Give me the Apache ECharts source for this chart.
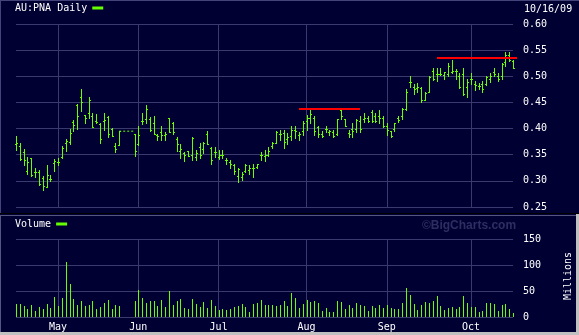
<!DOCTYPE html>
<html><head><meta charset="utf-8">
<script src="https://cdn.jsdelivr.net/npm/echarts@6/dist/echarts.min.js"></script>
<style>html,body{margin:0;padding:0;background:#000033;overflow:hidden}#c{width:579px;height:335px}</style>
</head><body><div id="c"></div><script>
// ---- data ----
const dates = [
'04-16','04-17','04-20','04-21','04-22','04-23','04-24','04-27','04-28','04-29','04-30',
'05-01','05-04','05-05','05-06','05-07','05-08','05-11','05-12','05-13','05-14','05-15','05-18','05-19','05-20','05-21','05-22','05-25','05-26','05-27','05-28','05-29',
'06-01','06-02','06-03','06-04','06-05','06-09','06-10','06-11','06-12','06-15','06-16','06-17','06-18','06-19','06-22','06-23','06-24','06-25','06-26','06-29','06-30',
'07-01','07-02','07-03','07-06','07-07','07-08','07-09','07-10','07-13','07-14','07-15','07-16','07-17','07-20','07-21','07-22','07-23','07-24','07-27','07-28','07-29','07-30','07-31',
'08-03','08-04','08-05','08-06','08-07','08-10','08-11','08-12','08-13','08-14','08-17','08-18','08-19','08-20','08-21','08-24','08-25','08-26','08-27','08-28','08-31',
'09-01','09-02','09-03','09-04','09-07','09-08','09-09','09-10','09-11','09-14','09-15','09-16','09-17','09-18','09-21','09-22','09-23','09-24','09-25','09-28','09-29','09-30',
'10-01','10-02','10-05','10-06','10-07','10-08','10-09','10-12','10-13','10-14','10-15','10-16'];
const open = [
.371,.366,.356,.319,.343,.316,.316,.305,.288,.303,.335,
.337,.345,.373,.374,.413,.445,.460,.426,.430,.425,.415,.408,.414,.422,.400,.367,.369,null,null,null,.390,
.370,.414,.418,.419,.410,.388,.394,.388,.420,.410,.380,.357,.354,.358,.349,.345,.365,.360,.389,.362,.356,
.345,.350,.340,.337,.330,.310,.308,.319,.320,.325,.326,.350,.348,.350,.366,.372,.390,.392,.380,.385,.398,.388,.395,
.415,.420,.420,.403,.390,.400,.394,.393,.390,.435,.418,.392,.400,.400,.415,.418,.420,.432,.425,.425,.420,
.405,.395,.400,.420,.425,.437,.490,.480,.478,.477,.455,.470,.510,.505,.505,.503,.505,.508,.511,.500,.505,.480,
.494,.485,.482,.486,.485,.495,.509,.500,.500,.527,.540,.530];
const high = [
.386,.372,.360,.346,.344,.325,.320,.310,.331,.312,.341,
.344,.366,.381,.400,.417,.447,.475,.426,.460,.429,.427,.411,.430,.425,.402,.373,.395,null,null,null,.390,
.404,.429,.445,.423,.424,.389,.405,.394,.420,.413,.384,.370,.355,.358,.384,.359,.372,.375,.395,.365,.365,
.359,.359,.343,.340,.333,.324,.317,.333,.330,.333,.333,.356,.359,.365,.374,.395,.398,.398,.391,.405,.405,.394,.415,
.426,.435,.424,.405,.395,.405,.398,.398,.419,.435,.419,.398,.410,.419,.424,.429,.424,.435,.429,.435,.424,
.410,.395,.410,.424,.440,.475,.500,.485,.487,.480,.470,.500,.515,.515,.515,.509,.525,.531,.513,.506,.515,.494,
.506,.491,.488,.491,.500,.506,.515,.506,.525,.547,.547,.531];
const low = [
.359,.340,.330,.314,.309,.308,.292,.283,.288,.299,.319,
.330,.343,.358,.370,.396,.400,.433,.410,.420,.403,.410,.372,.397,.384,.385,.355,.369,null,null,null,.347,
.369,.409,.410,.395,.389,.379,.379,.379,.394,.389,.358,.344,.338,.347,.339,.339,.343,.353,.370,.333,.346,
.342,.343,.333,.324,.314,.298,.302,.317,.314,.308,.324,.340,.338,.348,.363,.372,.379,.363,.370,.379,.382,.378,.388,
.397,.410,.388,.383,.383,.394,.388,.383,.388,.419,.404,.383,.383,.394,.394,.413,.413,.413,.413,.410,.403,
.387,.383,.395,.413,.419,.435,.480,.467,.469,.451,.455,.469,.493,.491,.503,.494,.500,.506,.494,.478,.464,.460,
.485,.474,.475,.469,.483,.490,.500,.491,.494,.520,.530,.515];
const close = [
.372,.341,.340,.336,.311,.316,.294,.290,.312,.303,.338,
.337,.363,.376,.392,.406,.425,.451,.420,.454,.403,.413,.380,.416,.390,.386,.361,.395,null,null,null,.358,
.388,.415,.438,.398,.390,.385,.388,.389,.394,.394,.371,.360,.349,.348,.382,.354,.350,.372,.370,.340,.355,
.350,.350,.340,.332,.319,.322,.313,.330,.324,.324,.332,.349,.349,.357,.372,.394,.389,.375,.383,.398,.395,.389,.410,
.421,.428,.395,.390,.385,.400,.395,.385,.418,.424,.404,.390,.395,.417,.400,.420,.414,.415,.415,.420,.405,
.398,.385,.410,.416,.437,.470,.490,.475,.480,.454,.468,.499,.495,.505,.505,.508,.519,.511,.510,.480,.467,.490,
.495,.484,.481,.475,.499,.500,.505,.494,.524,.540,.532,.515];
const volume = [
25,25,21,15,23,11,19,15,25,17,38,
21,36,105,64,34,23,31,21,23,31,15,19,27,32,15,23,21,null,null,null,31,
52,36,27,31,31,21,32,19,50,23,31,34,17,15,34,25,19,29,17,32,21,
13,15,13,15,19,21,25,19,9,25,27,32,23,23,23,21,23,31,21,46,36,17,25,
32,29,31,27,11,17,9,9,31,29,15,23,17,27,23,21,11,21,17,23,17,
23,17,15,15,27,56,42,25,13,23,29,27,31,40,21,13,17,19,15,19,40,27,
19,19,9,11,27,27,25,11,23,25,15,7];
// trading-halt days drawn as a dashed flat line
const haltDates = ['05-25','05-26','05-27','05-28','05-29'];
const haltLevel = 0.395;
// red resistance lines (category positions, price)
const resFrom = [74, 110.1];
const resTo = [89.7, 131.2];
const resLevel = [0.437, 0.535];
// month ticks
const monthStarts = ['05-01','06-01','07-01','08-03','09-01','10-01'];
const monthLabels = ['May','Jun','Jul','Aug','Sep','Oct'];
const priceTicks = {min:0.25, max:0.60, step:0.05};
const volTicks = {min:0, max:150, step:50};

// ---- chart ----
const GREEN = '#66ff00';
const GRID = '#3a3a6e';
const FONT = 'DejaVu Sans Mono';
const isMonthStart = (i) => monthStarts.indexOf(dates[i]) >= 0;

const ohlcData = [];
dates.forEach((d, i) => { if (open[i] != null) ohlcData.push([i, open[i], high[i], low[i], close[i]]); });
const volData = [];
dates.forEach((d, i) => { if (volume[i] != null) volData.push([i, volume[i]]); });
const haltData = dates.map(d => haltDates.indexOf(d) >= 0 ? haltLevel : null);
const resData = resLevel.map((v, k) => [resFrom[k], resTo[k], v]);

function ohlcItem(params, api) {
  const x = api.value(0);
  const pO = api.coord([x, api.value(1)]);
  const pH = api.coord([x, api.value(2)]);
  const pL = api.coord([x, api.value(3)]);
  const pC = api.coord([x, api.value(4)]);
  const px = Math.round(pH[0]);
  const yH = Math.round(pH[1]), yL = Math.round(pL[1]);
  return {type: 'group', children: [
    {type: 'rect', shape: {x: px, y: yH, width: 1, height: Math.max(1, yL - yH + 1)}, style: {fill: GREEN}},
    {type: 'rect', shape: {x: px - 1, y: Math.round(pO[1]), width: 1, height: 1}, style: {fill: GREEN}},
    {type: 'rect', shape: {x: px + 1, y: Math.round(pC[1]), width: 1, height: 1}, style: {fill: GREEN}}
  ]};
}
function volItem(params, api) {
  const x = api.value(0);
  const pT = api.coord([x, api.value(1)]);
  const pB = api.coord([x, 0]);
  const px = Math.round(pT[0]);
  const yT = Math.round(pT[1]), yB = Math.round(pB[1]);
  return {type: 'rect', shape: {x: px, y: yT, width: 1, height: yB - yT}, style: {fill: GREEN}};
}
function resItem(params, api) {
  const p0 = api.coord([api.value(0), api.value(2)]);
  const p1 = api.coord([api.value(1), api.value(2)]);
  const y = Math.round(p0[1]) - 1;
  return {type: 'rect', shape: {x: Math.round(p0[0]), y: y, width: Math.round(p1[0] - p0[0]), height: 2}, style: {fill: '#ff0000'}};
}

const chart = echarts.init(document.getElementById('c'), null, {renderer: 'canvas'});
const labelStyle = {color: '#ffffff', fontFamily: FONT, fontSize: 10};
chart.setOption({
  animation: false,
  backgroundColor: '#000033',
  textStyle: {fontFamily: FONT},
  legend: [
    {data: ['AU:PNA Daily'], left: 15, top: 3, padding: 0, align: 'right', icon: 'rect', itemWidth: 11, itemHeight: 3,
     selectedMode: false, textStyle: {color: '#ffffff', fontFamily: FONT, fontSize: 10, padding: 0}},
    {data: ['Volume'], left: 15, top: 219, padding: 0, align: 'right', icon: 'rect', itemWidth: 11, itemHeight: 3,
     selectedMode: false, textStyle: {color: '#ffffff', fontFamily: FONT, fontSize: 10, padding: 0}}
  ],
  grid: [
    {left: 16, width: 497, top: 24, height: 183},
    {left: 16, width: 497, top: 239, height: 78}
  ],
  xAxis: [
    {type: 'category', gridIndex: 0, data: dates, boundaryGap: false,
     axisLine: {show: false}, axisTick: {show: false}, axisLabel: {show: false},
     splitLine: {show: true, interval: (i) => isMonthStart(i), lineStyle: {color: GRID, width: 1}}},
    {type: 'category', gridIndex: 1, data: dates, boundaryGap: false,
     axisLine: {show: false}, axisTick: {show: false},
     axisLabel: Object.assign({interval: (i) => isMonthStart(i), margin: 5,
       formatter: (v) => monthLabels[monthStarts.indexOf(v)] || ''}, labelStyle),
     splitLine: {show: true, interval: (i) => isMonthStart(i), lineStyle: {color: GRID, width: 1}}}
  ],
  yAxis: [
    {type: 'value', gridIndex: 0, position: 'right', min: priceTicks.min, max: priceTicks.max, interval: priceTicks.step,
     axisLine: {show: false}, axisTick: {show: false},
     axisLabel: Object.assign({margin: 10, formatter: (v) => v.toFixed(2)}, labelStyle),
     splitLine: {show: true, lineStyle: {color: GRID, width: 1}}},
    {type: 'value', gridIndex: 1, position: 'right', min: volTicks.min, max: volTicks.max, interval: volTicks.step,
     axisLine: {show: false}, axisTick: {show: false},
     axisLabel: Object.assign({margin: 10}, labelStyle),
     splitLine: {show: true, lineStyle: {color: GRID, width: 1}}}
  ],
  series: [
    {name: 'AU:PNA Daily', type: 'custom', xAxisIndex: 0, yAxisIndex: 0, data: ohlcData,
     encode: {x: 0, y: [1, 2, 3, 4]}, renderItem: ohlcItem, itemStyle: {color: GREEN}, z: 3},
    {name: 'halt', type: 'line', xAxisIndex: 0, yAxisIndex: 0, data: haltData, showSymbol: false, symbol: 'none',
     lineStyle: {color: GREEN, width: 1, type: [2, 2]}, z: 3, silent: true},
    {name: 'resistance', type: 'custom', xAxisIndex: 0, yAxisIndex: 0, data: resData,
     encode: {x: [0, 1], y: 2}, renderItem: resItem, clip: false, z: 4},
    {name: 'Volume', type: 'custom', xAxisIndex: 1, yAxisIndex: 1, data: volData,
     encode: {x: 0, y: 1}, renderItem: volItem, itemStyle: {color: GREEN}, z: 3}
  ],
  graphic: [
    {type: 'text', left: 524, top: 4, z: 100, style: {text: '10/16/09', fill: '#ffffff', font: '10px "DejaVu Sans Mono"'}},
    {type: 'text', x: 469, y: 226, z: 100, style: {text: '\u00a9BigCharts.com', fill: '#2e2e62', font: 'bold 12px "Liberation Sans"', textAlign: 'center', textVerticalAlign: 'middle'}},
    {type: 'text', x: 568, y: 276, rotation: Math.PI / 2, z: 100, style: {text: 'Millions', fill: '#ffffff', font: '10px "DejaVu Sans Mono"', textAlign: 'center', textVerticalAlign: 'middle'}},
    {type: 'rect', z: 100, shape: {x: 0, y: 0, width: 1, height: 213}, style: {fill: '#44447a'}},
    {type: 'rect', z: 100, shape: {x: 0, y: 0, width: 579, height: 1}, style: {fill: '#44447a'}},
    {type: 'rect', z: 100, shape: {x: 0, y: 213, width: 579, height: 1}, style: {fill: '#000000'}},
    {type: 'rect', z: 100, shape: {x: 0, y: 215, width: 576, height: 1}, style: {fill: '#55557f'}},
    {type: 'rect', z: 100, shape: {x: 0, y: 215, width: 1, height: 117}, style: {fill: '#55557f'}},
    {type: 'rect', z: 100, shape: {x: 576, y: 214, width: 3, height: 121}, style: {fill: '#c0c0c0'}},
    {type: 'rect', z: 100, shape: {x: 0, y: 332, width: 579, height: 3}, style: {fill: '#c0c0c0'}}
  ]
});
</script></body></html>
